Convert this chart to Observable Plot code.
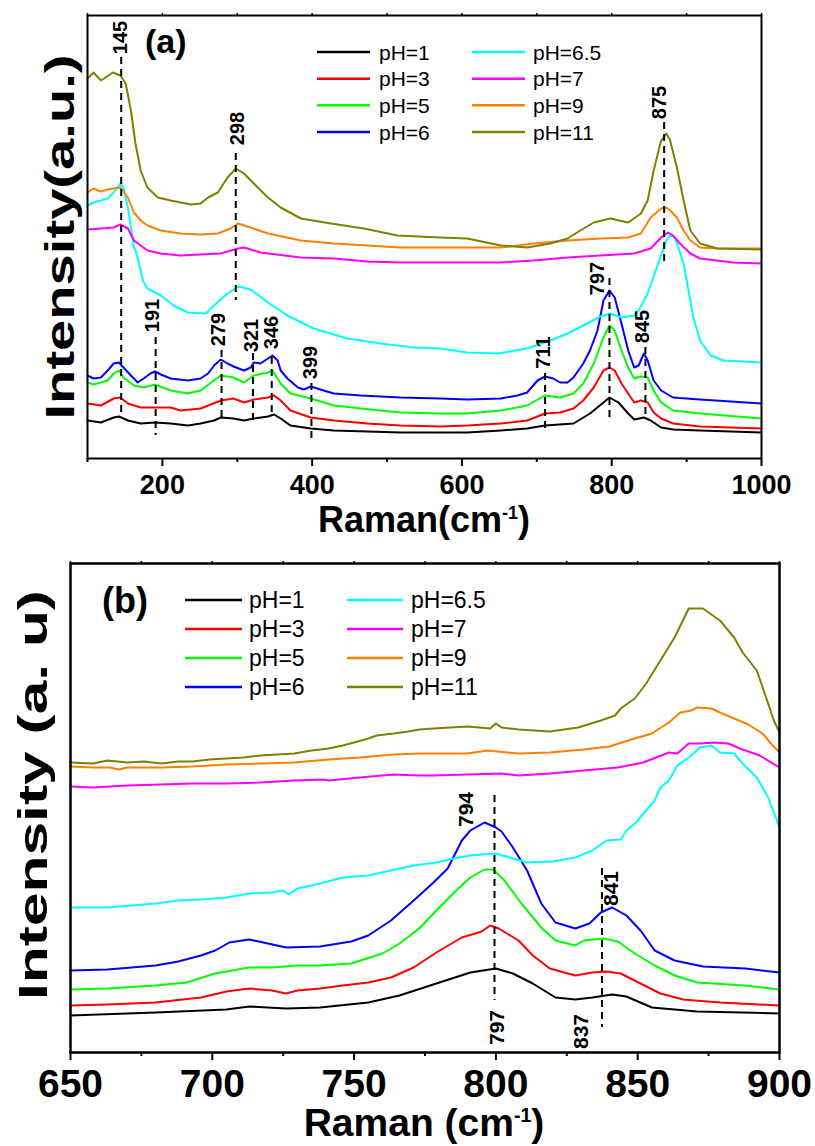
<!DOCTYPE html>
<html><head><meta charset="utf-8">
<script src="https://cdn.jsdelivr.net/npm/d3@7"></script>
<script src="https://cdn.jsdelivr.net/npm/@observablehq/plot@0.6"></script>
<style>body{margin:0;background:#fff} svg{display:block}</style>
</head><body><div id="chart"></div>
<script>
// ---------- series metadata ----------
const seriesNames = ["pH=1","pH=3","pH=5","pH=6","pH=6.5","pH=7","pH=9","pH=11"];
const seriesColors = ["#000000","#ff0000","#00ff00","#0000ff","#00ffff","#ff00ff","#ff8000","#808000"];

// ---------- panel (a): [Raman shift cm-1, intensity a.u.] ----------
const a_pH1 = [[100,38],[118,36],[135,41],[142,42],[154,38],[171,35],[190,36],[211,35],[234,33],[251,35],[269,38],[278,41],[295,40],[309,38],[322,40],[341,42],[349,44],[358,40],[371,33],[398,30],[429,28],[474,27],[518,26],[571,26],[607,26],[652,28],[687,30],[711,33],[749,35],[771,45],[789,56],[797,61],[809,56],[822,45],[830,39],[843,41],[852,38],[866,31],[882,29],[918,28],[1000,26]];
const a_pH3 = [[100,55],[118,53],[135,60],[144,61],[154,55],[171,51],[190,51],[211,51],[224,48],[251,50],[278,58],[295,60],[309,56],[322,59],[341,61],[349,63],[358,58],[371,48],[398,41],[429,38],[474,35],[518,33],[571,32],[607,33],[652,35],[687,38],[711,45],[731,46],[749,50],[762,58],[776,71],[789,88],[797,91],[804,88],[813,75],[822,65],[830,56],[839,58],[848,56],[856,46],[866,40],[882,35],[918,32],[1000,30]];
const a_pH5 = [[100,76],[108,74],[127,78],[135,85],[142,88],[148,81],[162,73],[175,71],[190,74],[211,68],[234,65],[251,68],[269,78],[278,83],[295,81],[309,76],[322,83],[341,86],[347,88],[358,75],[371,65],[398,60],[429,53],[465,50],[518,46],[571,45],[607,45],[652,48],[687,53],[711,63],[731,61],[749,65],[762,75],[776,95],[789,121],[797,133],[804,128],[813,108],[822,91],[830,80],[839,82],[848,81],[856,68],[866,56],[882,48],[918,45],[1000,40]];
const a_pH6 = [[100,83],[108,80],[118,81],[127,88],[135,95],[142,96],[148,91],[158,83],[167,76],[175,80],[184,85],[190,87],[198,84],[211,80],[234,78],[251,80],[261,85],[269,93],[278,99],[287,95],[295,92],[309,88],[318,91],[322,96],[331,95],[341,100],[347,103],[354,98],[358,88],[367,80],[381,71],[389,69],[398,72],[411,69],[429,65],[465,63],[518,61],[571,60],[607,59],[652,60],[674,63],[687,66],[701,78],[711,82],[722,80],[731,76],[741,76],[749,81],[762,95],[771,108],[781,128],[789,158],[797,168],[804,161],[813,135],[822,108],[830,91],[836,93],[843,105],[848,98],[856,78],[866,68],[882,61],[918,59],[1000,55]];
const a_pH65 = [[100,253],[108,256],[118,258],[127,260],[135,266],[144,275],[148,271],[154,251],[162,211],[164,208],[167,201],[174,178],[180,170],[198,163],[215,153],[234,146],[258,145],[269,153],[287,165],[302,172],[318,169],[341,156],[367,143],[402,130],[447,120],[491,115],[536,111],[571,110],[607,106],[648,105],[687,110],[718,118],[741,125],[762,133],[785,142],[798,145],[813,141],[830,143],[836,148],[848,165],[862,195],[873,218],[878,223],[885,220],[896,195],[909,141],[918,118],[932,103],[949,98],[1000,96]];
const a_pH7 = [[100,229],[118,230],[135,231],[144,234],[154,230],[162,218],[180,208],[198,205],[224,203],[251,204],[278,205],[301,210],[309,211],[331,206],[385,201],[429,200],[474,197],[518,196],[571,196],[607,196],[652,196],[696,198],[741,201],[785,203],[830,205],[852,210],[866,221],[875,226],[882,223],[891,215],[905,205],[918,200],[962,196],[1000,195]];
const a_pH9 = [[100,266],[108,270],[118,267],[127,269],[135,270],[144,271],[154,261],[162,246],[171,238],[180,233],[198,228],[224,225],[251,224],[274,225],[291,230],[301,235],[318,231],[341,225],[385,218],[429,215],[474,213],[518,211],[571,211],[607,211],[652,211],[696,215],[741,218],[785,220],[822,221],[839,225],[852,241],[866,250],[873,251],[878,248],[887,241],[896,228],[905,218],[918,211],[941,210],[1000,210]];
const a_pH11 = [[100,380],[108,386],[118,378],[134,386],[144,383],[151,375],[158,348],[164,315],[171,288],[180,271],[194,261],[211,258],[238,254],[251,255],[261,261],[274,266],[287,281],[298,290],[309,285],[322,275],[341,261],[358,251],[385,240],[425,235],[469,230],[514,223],[571,221],[607,220],[652,213],[687,211],[718,215],[741,220],[758,228],[776,236],[798,240],[822,236],[839,245],[848,258],[856,288],[866,318],[873,325],[878,318],[887,291],[896,258],[905,228],[918,215],[941,210],[1000,209]];

// peak markers of panel (a)
const a_peakText   = ["145","298","191","279","321","346","399","711","797","845","875"];
const a_peakLineX  = [145, 298, 191, 279, 321, 346, 399, 711, 797, 845, 870];
const a_peakLineY1 = [401, 305, 121, 108, 105, 101, 75, 85, 180, 111, 336];
const a_peakLineY2 = [41, 158, 23, 41, 38, 41, 18, 26, 38, 41, 196];
const a_peakTextX  = [144, 300, 187, 275, 319, 346, 398, 709, 781, 841, 864];
const a_peakTextY  = [421, 330, 143, 129, 123, 126, 96, 106, 180, 132, 356];
const a_xMajor = [200, 400, 600, 800, 1000];
const a_xMinor = [100, 300, 500, 700, 900];

// ---------- panel (b) ----------
const b_pH1 = [[650,37],[680,40],[705,43],[713,46],[726,44],[738,45],[755,50],[766,57],[779,69],[791,80],[800,84],[806,79],[813,69],[821,55],[828,53],[834,55],[841,58],[846,56],[855,45],[871,41],[900,39]];
const b_pH3 = [[650,47],[663,48],[680,50],[696,55],[705,61],[713,64],[721,62],[726,59],[730,62],[738,64],[746,67],[755,70],[763,75],[771,85],[779,100],[788,115],[795,121],[798,127],[801,124],[808,112],[813,97],[819,84],[828,77],[834,80],[839,81],[844,79],[851,69],[858,59],[866,53],[879,50],[900,47]];
const b_pH5 = [[650,63],[663,64],[680,67],[691,70],[701,79],[713,85],[721,85],[730,87],[738,87],[749,89],[760,99],[766,109],[773,124],[779,142],[786,162],[791,175],[796,183],[799,183],[803,172],[809,149],[816,125],[821,112],[828,107],[831,112],[838,114],[843,111],[849,99],[856,87],[863,77],[871,70],[888,67],[900,63]];
const b_pH6 = [[650,82],[663,83],[680,87],[688,91],[696,97],[701,102],[706,110],[713,113],[718,110],[726,105],[738,106],[749,111],[755,117],[763,132],[771,152],[778,170],[783,184],[788,212],[791,222],[796,230],[800,225],[802,221],[806,205],[811,182],[816,149],[821,130],[828,124],[833,129],[837,140],[841,145],[846,137],[851,122],[856,102],[863,92],[873,86],[888,84],[900,80]];
const b_pH65 = [[650,145],[663,145],[680,149],[688,152],[696,153],[705,155],[713,159],[721,160],[725,162],[727,158],[730,164],[738,169],[746,175],[755,177],[763,182],[771,187],[779,190],[785,194],[791,197],[800,199],[806,194],[811,190],[820,191],[828,195],[834,202],[839,212],[844,213],[846,222],[849,229],[856,252],[858,265],[861,272],[864,287],[868,295],[872,305],[876,307],[879,300],[884,299],[887,289],[892,275],[896,255],[900,225]];
const b_pH7 = [[650,266],[658,265],[670,267],[682,268],[693,269],[705,269],[717,270],[729,272],[739,273],[741,272],[752,275],[764,278],[773,277],[778,277],[790,278],[802,279],[808,277],[819,279],[831,282],[843,285],[852,290],[861,300],[864,299],[868,309],[872,309],[877,310],[882,309],[886,304],[893,297],[900,285]];
const b_pH9 = [[650,286],[658,285],[664,285],[667,283],[670,285],[682,285],[693,286],[705,288],[717,289],[729,290],[741,293],[752,295],[764,298],[773,299],[778,299],[790,299],[797,302],[808,299],[819,300],[831,303],[840,306],[849,314],[855,319],[861,330],[865,340],[869,342],[871,345],[876,344],[879,340],[884,334],[889,328],[894,319],[897,309],[900,300]];
const b_pH11 = [[650,290],[658,289],[663,292],[670,290],[676,291],[682,289],[688,291],[693,291],[699,293],[705,294],[711,295],[717,297],[723,298],[729,299],[735,302],[741,304],[746,307],[750,310],[755,314],[758,317],[764,319],[769,321],[773,323],[778,324],[790,326],[798,324],[800,329],[802,325],[808,323],[819,321],[829,325],[837,332],[842,337],[844,344],[849,354],[853,369],[858,392],[863,415],[868,444],[873,444],[879,432],[884,415],[887,400],[892,382],[896,349],[898,332],[900,320]];

const b_peakText   = ["794","797","837","841"];
const b_peakTextX  = [789.6, 800.6, 830.2, 840.8];
const b_peakTextY  = [243, 25, 21, 164];
const b_peakLineX  = [799.5, 837.4];
const b_peakLineY1 = [257, 184];
const b_peakLineY2 = [52, 25];
const b_xMajor = [650, 700, 750, 800, 850, 900];
const b_xMinor = [675, 725, 775, 825, 875];

// ---------- helpers ----------
const FONT = "'Liberation Sans', Arial, Helvetica, sans-serif";
const toRows = (arrs) => arrs.flatMap((arr, i) => arr.map(([x, y]) => ({x, y, s: seriesNames[i]})));

function panel(o) {
  const lines = o.lineX.map((x, i) => ({x, y1: o.lineY1[i], y2: o.lineY2[i]}));
  const labels = o.textX.map((x, i) => ({x, y: o.textY[i], t: o.text[i]}));
  return Plot.plot({
    width: 815, height: o.height,
    marginTop: o.mt, marginBottom: o.mb, marginLeft: o.ml, marginRight: o.mr,
    x: {domain: o.xDomain},
    y: {domain: o.yDomain, axis: null},
    color: {domain: seriesNames, range: seriesColors},
    style: {fontFamily: FONT, background: "#fff", color: "#000", overflow: "visible"},
    marks: [
      Plot.line(toRows(o.series), {x: "x", y: "y", z: "s", stroke: "s", strokeWidth: 2, strokeLinejoin: "round"}),
      Plot.ruleX(lines, {x: "x", y1: "y1", y2: "y2", stroke: "#000", strokeWidth: 2, strokeDasharray: "7,5"}),
      Plot.text(labels, {x: "x", y: "y", text: "t", rotate: -90, fontSize: o.peakFont, fontWeight: "bold", fill: "#000"}),
      Plot.axisX({ticks: o.major, tickSize: 8, tickPadding: o.tickPad, fontSize: o.tickFont, fontWeight: "bold", strokeWidth: 2, label: null, tickFormat: d => String(d)}),
      Plot.axisX({ticks: o.minor, tickSize: 4, strokeWidth: 2, label: null, tickFormat: () => ""}),
      Plot.axisX({anchor: "top", ticks: o.major.concat(o.minor), tickSize: 3, strokeWidth: 1.5, label: null, tickFormat: () => ""}),
      Plot.frame({stroke: "#000", strokeWidth: o.frameW})
    ]
  });
}

function decorate(svgNode, o) {
  const svg = d3.select(svgNode);
  const g = svg.append("g").attr("font-family", FONT).attr("fill", "#000").attr("text-anchor", "start");
  // legend
  o.legendCols.forEach((col, ci) => {
    for (let r = 0; r < 4; r++) {
      const idx = ci * 4 + r;
      const y = o.legendRows[r];
      g.append("line").attr("x1", col[0]).attr("x2", col[1]).attr("y1", y).attr("y2", y)
        .attr("stroke", seriesColors[idx]).attr("stroke-width", 2.5);
      g.append("text").attr("x", col[2]).attr("y", y + o.legendFont * 0.36)
        .attr("text-anchor", "start").attr("font-size", o.legendFont).text(seriesNames[idx]);
    }
  });
  // panel tag
  g.append("text").attr("x", o.tag[0]).attr("y", o.tag[1]).attr("font-size", o.tag[2])
    .attr("text-anchor", "start").attr("font-weight", "bold").text(o.tag[3]);
  // x title with superscript
  const fs = o.xTitle[2];
  const xt = g.append("text").attr("x", o.xTitle[0]).attr("y", o.xTitle[1])
    .attr("font-size", fs).attr("font-weight", "bold").attr("text-anchor", "middle");
  xt.append("tspan").text(o.xTitle[3]);
  xt.append("tspan").attr("font-size", fs * 0.5).attr("dy", -fs * 0.36).text("-1");
  xt.append("tspan").attr("dy", fs * 0.36).text(")");
  // y title
  g.append("text").attr("transform", `translate(${o.yTitle[0]},${o.yTitle[1]}) rotate(-90)`)
    .attr("font-size", o.yTitle[2]).attr("font-weight", "bold").attr("text-anchor", "middle")
    .attr("textLength", o.yTitle[4]).attr("lengthAdjust", "spacingAndGlyphs").text(o.yTitle[3]);
}

const root = document.getElementById("chart");

const A = panel({
  height: 540, mt: 15, mb: 82, ml: 87, mr: 54,
  xDomain: [100, 1000], yDomain: [0, 443],
  series: [a_pH1, a_pH3, a_pH5, a_pH6, a_pH65, a_pH7, a_pH9, a_pH11],
  lineX: a_peakLineX, lineY1: a_peakLineY1, lineY2: a_peakLineY2,
  text: a_peakText, textX: a_peakTextX, textY: a_peakTextY, peakFont: 20,
  major: a_xMajor, minor: a_xMinor, tickFont: 27, tickPad: 8, frameW: 2
});
root.appendChild(A);
decorate(A, {
  legendCols: [[317, 370, 379], [472, 525, 533]], legendRows: [52, 78.7, 105.3, 132], legendFont: 21,
  tag: [145, 53, 34, "(a)"],
  xTitle: [424, 532, 36, "Raman(cm"],
  yTitle: [74, 237, 40, "Intensity(a.u.)", 365]
});

const B = panel({
  height: 606, mt: 23, mb: 94, ml: 70, mr: 36,
  xDomain: [650, 900], yDomain: [0, 489],
  series: [b_pH1, b_pH3, b_pH5, b_pH6, b_pH65, b_pH7, b_pH9, b_pH11],
  lineX: b_peakLineX, lineY1: b_peakLineY1, lineY2: b_peakLineY2,
  text: b_peakText, textX: b_peakTextX, textY: b_peakTextY, peakFont: 21,
  major: b_xMajor, minor: b_xMinor, tickFont: 39, tickPad: 9, frameW: 2.5
});
root.appendChild(B);
decorate(B, {
  legendCols: [[185, 242, 249], [347, 403, 411]], legendRows: [60, 89, 118, 147], legendFont: 23,
  tag: [102, 73, 36, "(b)"],
  xTitle: [424, 596, 39, "Raman (cm"],
  yTitle: [47, 255, 40, "Intensity (a. u)", 410]
});
</script></body></html>
